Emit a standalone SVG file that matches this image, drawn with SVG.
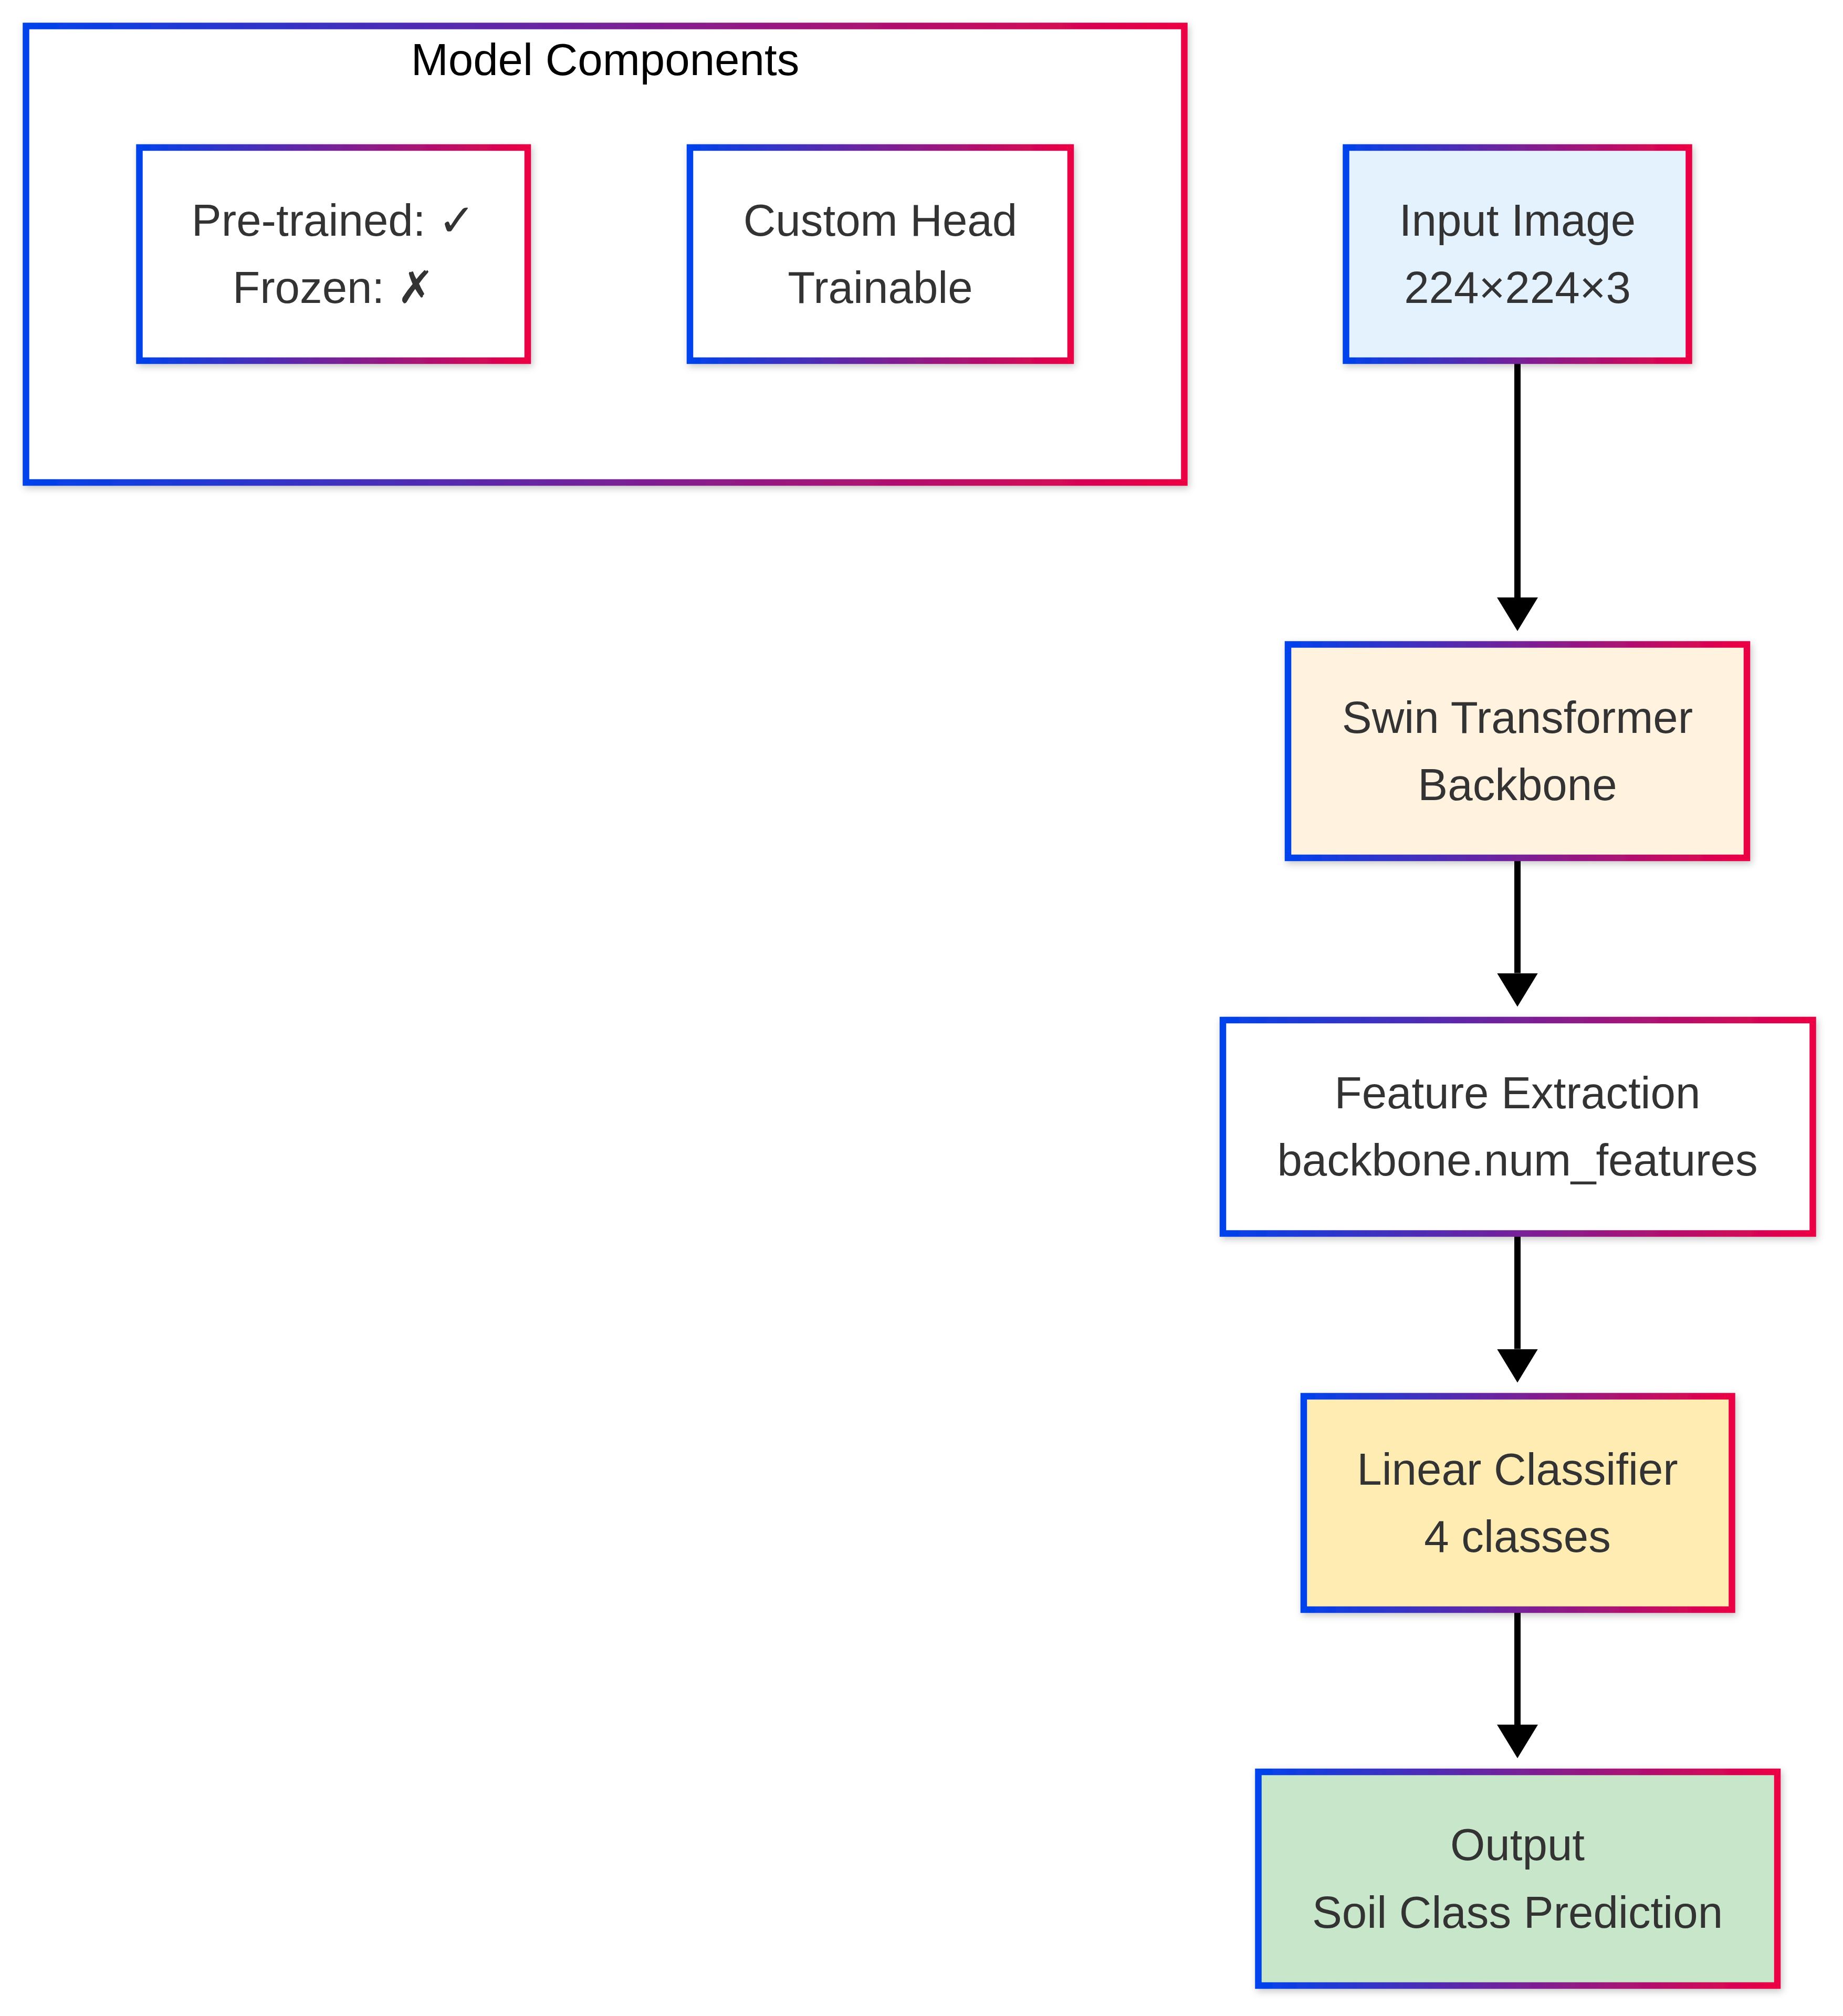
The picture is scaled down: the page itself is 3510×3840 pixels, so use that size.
<svg xmlns="http://www.w3.org/2000/svg" width="3510" height="3840" viewBox="0 0 3510 3840">
  <style>
    .box { stroke: url(#edge); stroke-width: 12.5; filter: url(#shadow); }
    .lbl { font-family: "Liberation Sans", Arial, "DejaVu Sans", sans-serif; font-size: 85.3px; fill: #333333; text-anchor: middle; }
    .title { font-family: "Liberation Sans", Arial, "DejaVu Sans", sans-serif; font-size: 85.3px; fill: #000000; text-anchor: middle; }
    .link { stroke: #000000; stroke-width: 12; fill: none; marker-end: url(#head); }
  </style>
  <defs>
    <linearGradient id="edge" x1="0" y1="0" x2="1" y2="0">
      <stop offset="0" stop-color="#0042EC"/>
      <stop offset="1" stop-color="#EC0044"/>
    </linearGradient>
    <filter id="shadow" x="-10%" y="-10%" width="125%" height="130%">
      <feDropShadow dx="3" dy="5" stdDeviation="7" flood-color="#000000" flood-opacity="0.22"/>
    </filter>
    <marker id="head" viewBox="0 0 64 78" refX="0" refY="39" markerWidth="64" markerHeight="78" markerUnits="userSpaceOnUse" orient="auto">
      <path d="M0,0 L64,39 L0,78 Z" fill="#000000"/>
    </marker>
  </defs>
  <rect width="3510" height="3840" fill="#ffffff"/>

  <!-- subgraph: model components -->
  <g id="cluster-model-components">
    <rect class="box" x="49.5" y="49.5" width="2206" height="869.5" fill="#ffffff"/>
    <text class="title" x="1152.5" y="143">Model Components</text>
  </g>

  <g id="node-pretrained">
    <rect class="box" x="265.5" y="281" width="739.5" height="406" fill="#ffffff"/>
    <text class="lbl" x="635.25" y="449">Pre-trained: ✓</text>
    <text class="lbl" x="635.25" y="577">Frozen: ✗</text>
  </g>

  <g id="node-custom-head">
    <rect class="box" x="1314" y="281" width="725" height="406" fill="#ffffff"/>
    <text class="lbl" x="1676.5" y="449">Custom Head</text>
    <text class="lbl" x="1676.5" y="577">Trainable</text>
  </g>

  <!-- pipeline connectors -->
  <g id="connectors">
    <path class="link" d="M2890,687 L2890,1138"/>
    <path class="link" d="M2890,1634 L2890,1853.5"/>
    <path class="link" d="M2890,2349.5 L2890,2569.5"/>
    <path class="link" d="M2890,3066 L2890,3285"/>
  </g>

  <g id="node-input">
    <rect class="box" x="2563.5" y="281" width="653" height="406" fill="#E3F2FD"/>
    <text class="lbl" x="2890" y="449">Input Image</text>
    <text class="lbl" x="2890" y="577">224×224×3</text>
  </g>

  <g id="node-backbone">
    <rect class="box" x="2453" y="1227.5" width="874" height="406.5" fill="#FFF3E0"/>
    <text class="lbl" x="2890" y="1395.5">Swin Transformer</text>
    <text class="lbl" x="2890" y="1524">Backbone</text>
  </g>

  <g id="node-features">
    <rect class="box" x="2329" y="1943" width="1123.5" height="406.5" fill="#ffffff"/>
    <text class="lbl" x="2890" y="2111">Feature Extraction</text>
    <text class="lbl" x="2890" y="2239">backbone.num_features</text>
  </g>

  <g id="node-classifier">
    <rect class="box" x="2483" y="2659.5" width="815.5" height="406.5" fill="#FFECB3"/>
    <text class="lbl" x="2890" y="2827.5">Linear Classifier</text>
    <text class="lbl" x="2890" y="2956">4 classes</text>
  </g>

  <g id="node-output">
    <rect class="box" x="2396.5" y="3375" width="988.5" height="407" fill="#C8E6C9"/>
    <text class="lbl" x="2890" y="3543">Output</text>
    <text class="lbl" x="2890" y="3672">Soil Class Prediction</text>
  </g>
</svg>
